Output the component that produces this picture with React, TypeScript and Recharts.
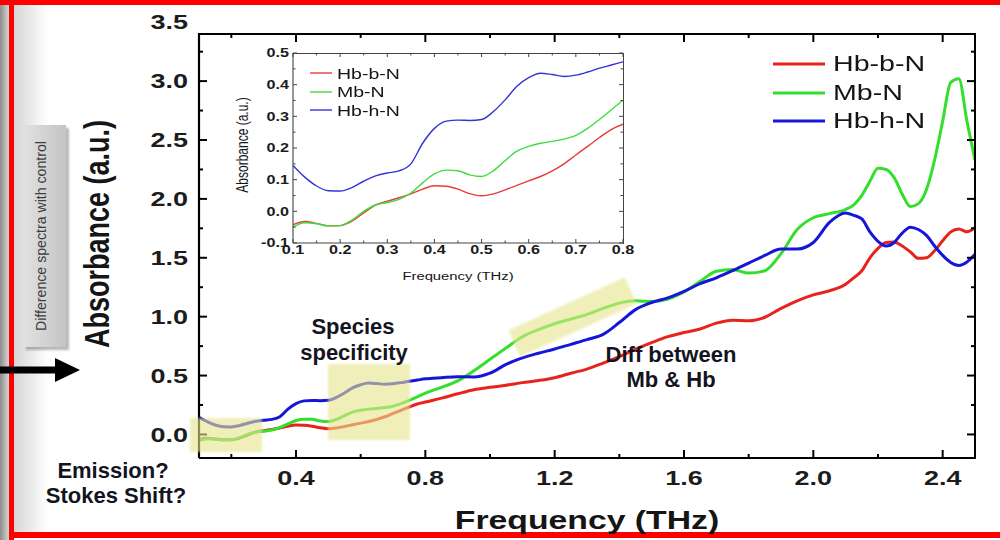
import React from "react";
import { LineChart, Line, XAxis, YAxis, Legend } from "recharts";

// Frequency grid in THz (finer up to 0.8 THz, where the inset zooms in, and past 2.1 THz)
const freq = [
  0.1, 0.125, 0.15, 0.175, 0.2, 0.225, 0.25, 0.275, 0.3, 0.325, 0.35, 0.375, 0.4, 0.425, 0.45,
  0.475, 0.5, 0.525, 0.55, 0.575, 0.6, 0.625, 0.65, 0.675, 0.7, 0.725, 0.75, 0.775, 0.8,
  0.85, 0.9, 0.95, 1.0, 1.05, 1.1, 1.15, 1.2, 1.25, 1.3, 1.35, 1.4, 1.45, 1.5, 1.55, 1.6,
  1.65, 1.7, 1.75, 1.8, 1.85, 1.9, 1.95, 2.0, 2.05, 2.1,
  2.125, 2.15, 2.175, 2.2, 2.225, 2.25, 2.275, 2.3, 2.325, 2.35, 2.375, 2.4, 2.425, 2.45, 2.475, 2.5,
];

// Difference absorbance spectra (a.u.)
const hbB = [
  -0.042, -0.032, -0.038, -0.046, -0.045, -0.031, -0.005, 0.02, 0.032, 0.043, 0.055, 0.07, 0.081, 0.079, 0.07,
  0.056, 0.049, 0.055, 0.068, 0.082, 0.096, 0.11, 0.128, 0.15, 0.178, 0.205, 0.233, 0.258, 0.275,
  0.308, 0.345, 0.38, 0.4, 0.418, 0.44, 0.458, 0.482, 0.52, 0.555, 0.605, 0.66, 0.725, 0.78, 0.83, 0.865,
  0.895, 0.945, 0.97, 0.965, 0.995, 1.07, 1.135, 1.185, 1.22, 1.275,
  1.33, 1.39, 1.5, 1.58, 1.63, 1.635, 1.6, 1.55, 1.495, 1.5, 1.56, 1.645, 1.72, 1.745, 1.72, 1.755,
];

const mbN = [
  -0.05, -0.036, -0.039, -0.046, -0.045, -0.028, 0.0, 0.02, 0.028, 0.038, 0.058, 0.09, 0.118, 0.13, 0.128,
  0.115, 0.11, 0.128, 0.16, 0.19, 0.205, 0.215, 0.221, 0.228, 0.24, 0.262, 0.29, 0.32, 0.351,
  0.4, 0.455, 0.54, 0.638, 0.735, 0.83, 0.89, 0.94, 0.98, 1.02, 1.07, 1.115, 1.135, 1.128, 1.15, 1.21,
  1.3, 1.385, 1.4, 1.37, 1.39, 1.535, 1.74, 1.84, 1.875, 1.91,
  1.95, 2.03, 2.15, 2.26, 2.25, 2.18, 2.04, 1.935, 1.96, 2.08, 2.33, 2.66, 2.99, 3.02, 2.66, 2.33,
];

const hbH = [
  0.145, 0.108, 0.08, 0.065, 0.064, 0.075, 0.095, 0.112, 0.121, 0.128, 0.15, 0.215, 0.262, 0.285, 0.288,
  0.287, 0.29, 0.315, 0.352, 0.395, 0.422, 0.436, 0.432, 0.426, 0.43, 0.44, 0.452, 0.462, 0.472,
  0.482, 0.49, 0.488, 0.52, 0.595, 0.65, 0.69, 0.725, 0.765, 0.805, 0.85, 0.95, 1.06, 1.12, 1.16, 1.215,
  1.28, 1.33, 1.39, 1.455, 1.52, 1.575, 1.575, 1.63, 1.8, 1.88,
  1.86, 1.83, 1.72, 1.64, 1.6, 1.63, 1.71, 1.76, 1.74, 1.69, 1.6, 1.52, 1.46, 1.435, 1.465, 1.53,
];

const seriesNames = ["Hb-b-N", "Mb-N", "Hb-h-N"];

// Axis ticks: labelled ones fall on the label step, the rest are minor marks
const freqTicks = [0.2, 0.4, 0.6, 0.8, 1.0, 1.2, 1.4, 1.6, 1.8, 2.0, 2.2, 2.4];
const absTicks = [0, 0.25, 0.5, 0.75, 1.0, 1.25, 1.5, 1.75, 2.0, 2.25, 2.5, 2.75, 3.0, 3.25, 3.5];
const insetFreqTicks = [0.1, 0.15, 0.2, 0.25, 0.3, 0.35, 0.4, 0.45, 0.5, 0.55, 0.6, 0.65, 0.7, 0.75, 0.8];
const insetAbsTicks = [-0.1, -0.05, 0, 0.05, 0.1, 0.15, 0.2, 0.25, 0.3, 0.35, 0.4, 0.45, 0.5];

const rows = freq.map((f, i) => ({ f, hbB: hbB[i], mbN: mbN[i], hbH: hbH[i] }));
const insetRows = rows.filter((r) => r.f <= 0.8 + 1e-9);

const COLORS = { hbB: "#e8231d", mbN: "#33df2c", hbH: "#1616d9" };
const INSET_COLORS = { hbB: "#ea3b3b", mbN: "#3fdc3f", hbH: "#3434d6" };
const FONT = "'Liberation Sans', Arial, sans-serif";
const INK = "#151515";

// chart boxes; the axes are 1px thick so Recharts keeps drawing them
type Box = {
  left: number;
  top: number;
  w: number;
  h: number;
  margin: { top: number; right: number; bottom: number; left: number };
  x: number[];
  y: number[];
};
const MAIN: Box = { left: 0, top: 0, w: 1000, h: 540, margin: { top: 34, right: 25, bottom: 81, left: 198 }, x: [0.1, 2.5], y: [-0.2, 3.4] };
const INSET: Box = { left: 230, top: 30, w: 420, h: 260, margin: { top: 23, right: 27, bottom: 46, left: 62 }, x: [0.1, 0.8], y: [-0.1, 0.5] };

// plot rectangle of a box in page pixels
function plotRect(box: Box) {
  const pl = box.left + box.margin.left + 1;
  const pr = box.left + box.w - box.margin.right;
  const pt = box.top + box.margin.top;
  const pb = box.top + box.h - box.margin.bottom - 1;
  return { pl, pr, pt, pb };
}

const onStep = (v: number, step: number) => Math.abs(v / step - Math.round(v / step)) < 1e-6;

// Horizontally stretched numeric tick labels (tick marks come with the frame)
function makeTickLabel(o: { side: "bottom" | "left"; step: number; size: number; stretch: number }) {
  return function TickLabel(props: any) {
    const { x, y, payload } = props;
    const v: number = payload.value;
    if (!onStep(v, o.step)) return <g />;
    return (
      <g transform={`translate(${x},${y}) scale(${o.stretch},1)`}>
        <text
          x={0}
          y={0}
          textAnchor={o.side === "bottom" ? "middle" : "end"}
          dominantBaseline="central"
          fontFamily={FONT}
          fontSize={o.size}
          fontWeight={700}
          fill="#1c1c1c"
        >
          {v.toFixed(1)}
        </text>
      </g>
    );
  };
}

function StretchText(props: {
  x: number;
  y: number;
  sx?: number;
  sy?: number;
  rotate?: number;
  size: number;
  weight?: number;
  color?: string;
  children: React.ReactNode;
}) {
  const { x, y, sx = 1, sy = 1, rotate = 0, size, weight = 400, color = INK } = props;
  return (
    <g transform={`translate(${x},${y}) rotate(${rotate}) scale(${sx},${sy})`}>
      <text
        x={0}
        y={0}
        textAnchor="middle"
        dominantBaseline="central"
        fontFamily={FONT}
        fontSize={size}
        fontWeight={weight}
        fill={color}
      >
        {props.children}
      </text>
    </g>
  );
}

function xTitle(text: string, o: { dy: number; size: number; weight: number }) {
  return function XTitle(p: any) {
    const { x, y, width } = p.viewBox;
    return (
      <StretchText x={x + width / 2} y={y + o.dy} size={o.size} weight={o.weight} sx={1.35}>
        {text}
      </StretchText>
    );
  };
}

function yTitle(text: string, o: { dx: number; dy: number; size: number; weight: number }) {
  return function YTitle(p: any) {
    const { x, y, width, height } = p.viewBox;
    return (
      <StretchText x={x + width - o.dx} y={y + height / 2 + o.dy} rotate={-90} sy={1.3} size={o.size} weight={o.weight}>
        {text}
      </StretchText>
    );
  };
}

const mainBottom = makeTickLabel({ side: "bottom", step: 0.4, size: 20, stretch: 1.35 });
const mainLeft = makeTickLabel({ side: "left", step: 0.5, size: 20, stretch: 1.35 });
const insetBottom = makeTickLabel({ side: "bottom", step: 0.1, size: 12, stretch: 1.35 });
const insetLeft = makeTickLabel({ side: "left", step: 0.1, size: 12, stretch: 1.35 });

// Inward major/minor ticks on all four sides of a plot
function FrameTicks(props: {
  box: Box;
  xTicks: number[];
  yTicks: number[];
  xStep: number;
  yStep: number;
  major: number;
  minor: number;
  stroke: string;
  tickWidth: number;
}) {
  const { box, xTicks, yTicks, xStep, yStep, major, minor, stroke, tickWidth } = props;
  const { pl, pr, pt, pb } = plotRect(box);
  const sx = (v: number) => pl + ((v - box.x[0]) / (box.x[1] - box.x[0])) * (pr - pl);
  const sy = (v: number) => pb - ((v - box.y[0]) / (box.y[1] - box.y[0])) * (pb - pt);
  const seg = (key: string, x1: number, y1: number, x2: number, y2: number) => (
    <line key={key} x1={x1} y1={y1} x2={x2} y2={y2} stroke={stroke} strokeWidth={tickWidth} />
  );
  const marks: React.ReactNode[] = [];
  xTicks
    .filter((v) => v <= box.x[1] + 1e-9)
    .forEach((v) => {
      const len = onStep(v, xStep) ? major : minor;
      const px = sx(v);
      marks.push(seg(`xb${v}`, px, pb, px, pb - len));
      marks.push(seg(`xt${v}`, px, pt, px, pt + len));
    });
  yTicks
    .filter((v) => v <= box.y[1] + 1e-9)
    .forEach((v) => {
      const len = onStep(v, yStep) ? major : minor;
      const py = sy(v);
      marks.push(seg(`yl${v}`, pl, py, pl + len, py));
      marks.push(seg(`yr${v}`, pr, py, pr - len, py));
    });
  return <g>{marks}</g>;
}

// Top and right edges of a plot frame as a bordered box
function FrameEdges({ box, color, width }: { box: Box; color: string; width: number }) {
  const { pl, pr, pt, pb } = plotRect(box);
  return (
    <div
      style={{
        position: "absolute",
        left: pl - width / 2,
        top: pt - width / 2,
        width: pr - pl,
        height: pb - pt,
        borderTop: `${width}px solid ${color}`,
        borderRight: `${width}px solid ${color}`,
        pointerEvents: "none",
      }}
    />
  );
}

function legendContent(opts: { line: number; row: number; size: number; gap: number; stroke: number }) {
  return function LegendList(props: any) {
    const items: any[] = (props.payload || [])
      .filter((item: any) => seriesNames.includes(item.value))
      .sort((a: any, b: any) => seriesNames.indexOf(a.value) - seriesNames.indexOf(b.value));
    return (
      <div style={{ fontFamily: FONT, lineHeight: 1 }}>
        {items.map((item) => (
          <div key={item.value} style={{ display: "flex", alignItems: "center", height: opts.row }}>
            <svg width={opts.line} height={6} style={{ display: "block" }}>
              <line x1={0} y1={3} x2={opts.line} y2={3} stroke={item.color} strokeWidth={opts.stroke} />
            </svg>
            <span
              style={{
                marginLeft: opts.gap,
                fontSize: opts.size,
                color: INK,
                display: "inline-block",
                transform: "scaleX(1.3)",
                transformOrigin: "left center",
                whiteSpace: "nowrap",
              }}
            >
              {item.value}
            </span>
          </div>
        ))}
      </div>
    );
  };
}

const mainLegend = legendContent({ line: 52, row: 28.5, size: 22, gap: 8, stroke: 3 });
const insetLegend = legendContent({ line: 22, row: 18.5, size: 15, gap: 5, stroke: 1.4 });

function MainChart() {
  return (
    <LineChart width={MAIN.w} height={MAIN.h} data={rows} margin={MAIN.margin}>
      <XAxis
        xAxisId="f"
        dataKey="f"
        type="number"
        domain={MAIN.x}
        allowDataOverflow
        ticks={freqTicks}
        interval={0}
        height={1}
        tickSize={0}
        tickMargin={20}
        tickLine={false}
        axisLine={{ stroke: "#000", strokeWidth: 2.2 }}
        tick={mainBottom}
        label={{ content: xTitle("Frequency (THz)", { dy: 62, size: 25, weight: 700 }) }}
      />
      <YAxis
        yAxisId="a"
        type="number"
        domain={MAIN.y}
        allowDataOverflow
        ticks={absTicks}
        interval={0}
        width={1}
        tickSize={0}
        tickMargin={11}
        tickLine={false}
        axisLine={{ stroke: "#000", strokeWidth: 2.2 }}
        tick={mainLeft}
        label={{ content: yTitle("Absorbance (a.u.)", { dx: 102, dy: -12, size: 27, weight: 700 }) }}
      />
      <Legend
        layout="vertical"
        align="center"
        verticalAlign="middle"
        wrapperStyle={{ left: 773, top: 50, width: 200 }}
        content={mainLegend}
      />
      <Line xAxisId="f" yAxisId="a" name={seriesNames[0]} dataKey="hbB" type="monotone" stroke={COLORS.hbB} strokeWidth={3} dot={false} activeDot={false} isAnimationActive={false} />
      <Line xAxisId="f" yAxisId="a" name={seriesNames[1]} dataKey="mbN" type="monotone" stroke={COLORS.mbN} strokeWidth={3} dot={false} activeDot={false} isAnimationActive={false} />
      <Line xAxisId="f" yAxisId="a" name={seriesNames[2]} dataKey="hbH" type="monotone" stroke={COLORS.hbH} strokeWidth={3} dot={false} activeDot={false} isAnimationActive={false} />
    </LineChart>
  );
}

function InsetChart() {
  return (
    <LineChart width={INSET.w} height={INSET.h} data={insetRows} margin={INSET.margin}>
      <XAxis
        xAxisId="f"
        dataKey="f"
        type="number"
        domain={INSET.x}
        allowDataOverflow
        ticks={insetFreqTicks}
        interval={0}
        height={1}
        tickSize={0}
        tickMargin={7}
        tickLine={false}
        axisLine={{ stroke: "#444", strokeWidth: 1.1 }}
        tick={insetBottom}
        label={{ content: xTitle("Frequency (THz)", { dy: 33, size: 11, weight: 400 }) }}
      />
      <YAxis
        yAxisId="a"
        type="number"
        domain={INSET.y}
        allowDataOverflow
        ticks={insetAbsTicks}
        interval={0}
        width={1}
        tickSize={0}
        tickMargin={4}
        tickLine={false}
        axisLine={{ stroke: "#444", strokeWidth: 1.1 }}
        tick={insetLeft}
        label={{ content: yTitle("Absorbance (a.u.)", { dx: 51, dy: -3, size: 12, weight: 400 }) }}
      />
      <Legend
        layout="vertical"
        align="center"
        verticalAlign="middle"
        wrapperStyle={{ left: 80, top: 34, width: 120 }}
        content={insetLegend}
      />
      <Line xAxisId="f" yAxisId="a" name={seriesNames[0]} dataKey="hbB" type="monotone" stroke={INSET_COLORS.hbB} strokeWidth={1.4} dot={false} activeDot={false} isAnimationActive={false} />
      <Line xAxisId="f" yAxisId="a" name={seriesNames[1]} dataKey="mbN" type="monotone" stroke={INSET_COLORS.mbN} strokeWidth={1.4} dot={false} activeDot={false} isAnimationActive={false} />
      <Line xAxisId="f" yAxisId="a" name={seriesNames[2]} dataKey="hbH" type="monotone" stroke={INSET_COLORS.hbH} strokeWidth={1.4} dot={false} activeDot={false} isAnimationActive={false} />
    </LineChart>
  );
}

// Slide decorations drawn over the plot: frame ticks, highlight boxes, notes, arrow, side tag
function Annotations() {
  const hl = "rgba(230, 228, 140, 0.6)";
  const note = { size: 22, weight: 700, color: "#14141e" };
  return (
    <svg width={1000} height={540} style={{ position: "absolute", left: 0, top: 0, pointerEvents: "none" }}>
      <defs>
        <linearGradient id="tagFill" x1="0" y1="0" x2="1" y2="0">
          <stop offset="0" stopColor="#e2e2e2" />
          <stop offset="1" stopColor="#c4c4c4" />
        </linearGradient>
        <filter id="soft" x="-10%" y="-10%" width="120%" height="120%">
          <feGaussianBlur stdDeviation="0.8" />
        </filter>
      </defs>

      <FrameTicks box={MAIN} xTicks={freqTicks} yTicks={absTicks} xStep={0.4} yStep={0.5} major={8} minor={4} stroke="#000" tickWidth={2} />
      <FrameTicks box={INSET} xTicks={insetFreqTicks} yTicks={insetAbsTicks} xStep={0.1} yStep={0.1} major={4} minor={2.5} stroke="#444" tickWidth={1} />

      <rect x={190} y={418} width={72} height={34} fill={hl} filter="url(#soft)" />
      <rect x={328} y={364} width={82} height={76} fill={hl} filter="url(#soft)" />
      <rect
        x={-64}
        y={-14.5}
        width={128}
        height={29}
        fill={hl}
        filter="url(#soft)"
        transform="translate(572.5,317) rotate(-24.5)"
      />

      <StretchText x={353} y={326} size={note.size} weight={note.weight} color={note.color}>Species</StretchText>
      <StretchText x={354} y={352} size={note.size} weight={note.weight} color={note.color}>specificity</StretchText>
      <StretchText x={671} y={354} size={note.size} weight={note.weight} color={note.color}>Diff between</StretchText>
      <StretchText x={671} y={379} size={note.size} weight={note.weight} color={note.color}>Mb &amp; Hb</StretchText>
      <StretchText x={113} y={470} size={note.size} weight={note.weight} color={note.color}>Emission?</StretchText>
      <StretchText x={116} y={495} size={note.size} weight={note.weight} color={note.color}>Stokes Shift?</StretchText>

      <rect x={0} y={366.5} width={57} height={7} fill="#000" />
      <polygon points="55,358 80,370 55,382" fill="#000" />

      <rect x={26} y={128} width={43} height={222} fill="rgba(0,0,0,0.28)" filter="url(#soft)" />
      <rect x={23} y={125} width={43} height={222} fill="url(#tagFill)" />
      <text
        transform="translate(41,236) rotate(-90)"
        textAnchor="middle"
        dominantBaseline="central"
        fontFamily={FONT}
        fontSize={14}
        fill="#3c3c3c"
        textLength={190}
        lengthAdjust="spacingAndGlyphs"
      >
        Difference spectra with control
      </text>
    </svg>
  );
}

export default function App() {
  return (
    <div
      style={{
        position: "absolute",
        left: 0,
        top: 0,
        width: 1000,
        height: 540,
        overflow: "hidden",
        background: "#fff",
      }}
    >
      {/* frame: outer shadow, red border, inner shading */}
      <div style={{ position: "absolute", left: 0, top: 0, width: 9, height: 540, background: "linear-gradient(to right, #8c8c8c, #d6d6d6)" }} />
      <div style={{ position: "absolute", left: 14, top: 5, width: 34, height: 527, background: "linear-gradient(to right, rgba(0,0,0,0.16), rgba(0,0,0,0))" }} />
      <div style={{ position: "absolute", left: 0, top: 0, width: 1000, height: 5, background: "#f00" }} />
      <div style={{ position: "absolute", left: 9, top: 0, width: 5, height: 540, background: "#f00" }} />
      <div style={{ position: "absolute", left: 9, top: 532, width: 991, height: 6, background: "#f00" }} />

      <div style={{ position: "absolute", left: MAIN.left, top: MAIN.top }}>
        <MainChart />
      </div>
      <div style={{ position: "absolute", left: INSET.left, top: INSET.top }}>
        <InsetChart />
      </div>
      <FrameEdges box={MAIN} color="#000" width={2} />
      <FrameEdges box={INSET} color="#444" width={1} />
      <Annotations />
    </div>
  );
}
